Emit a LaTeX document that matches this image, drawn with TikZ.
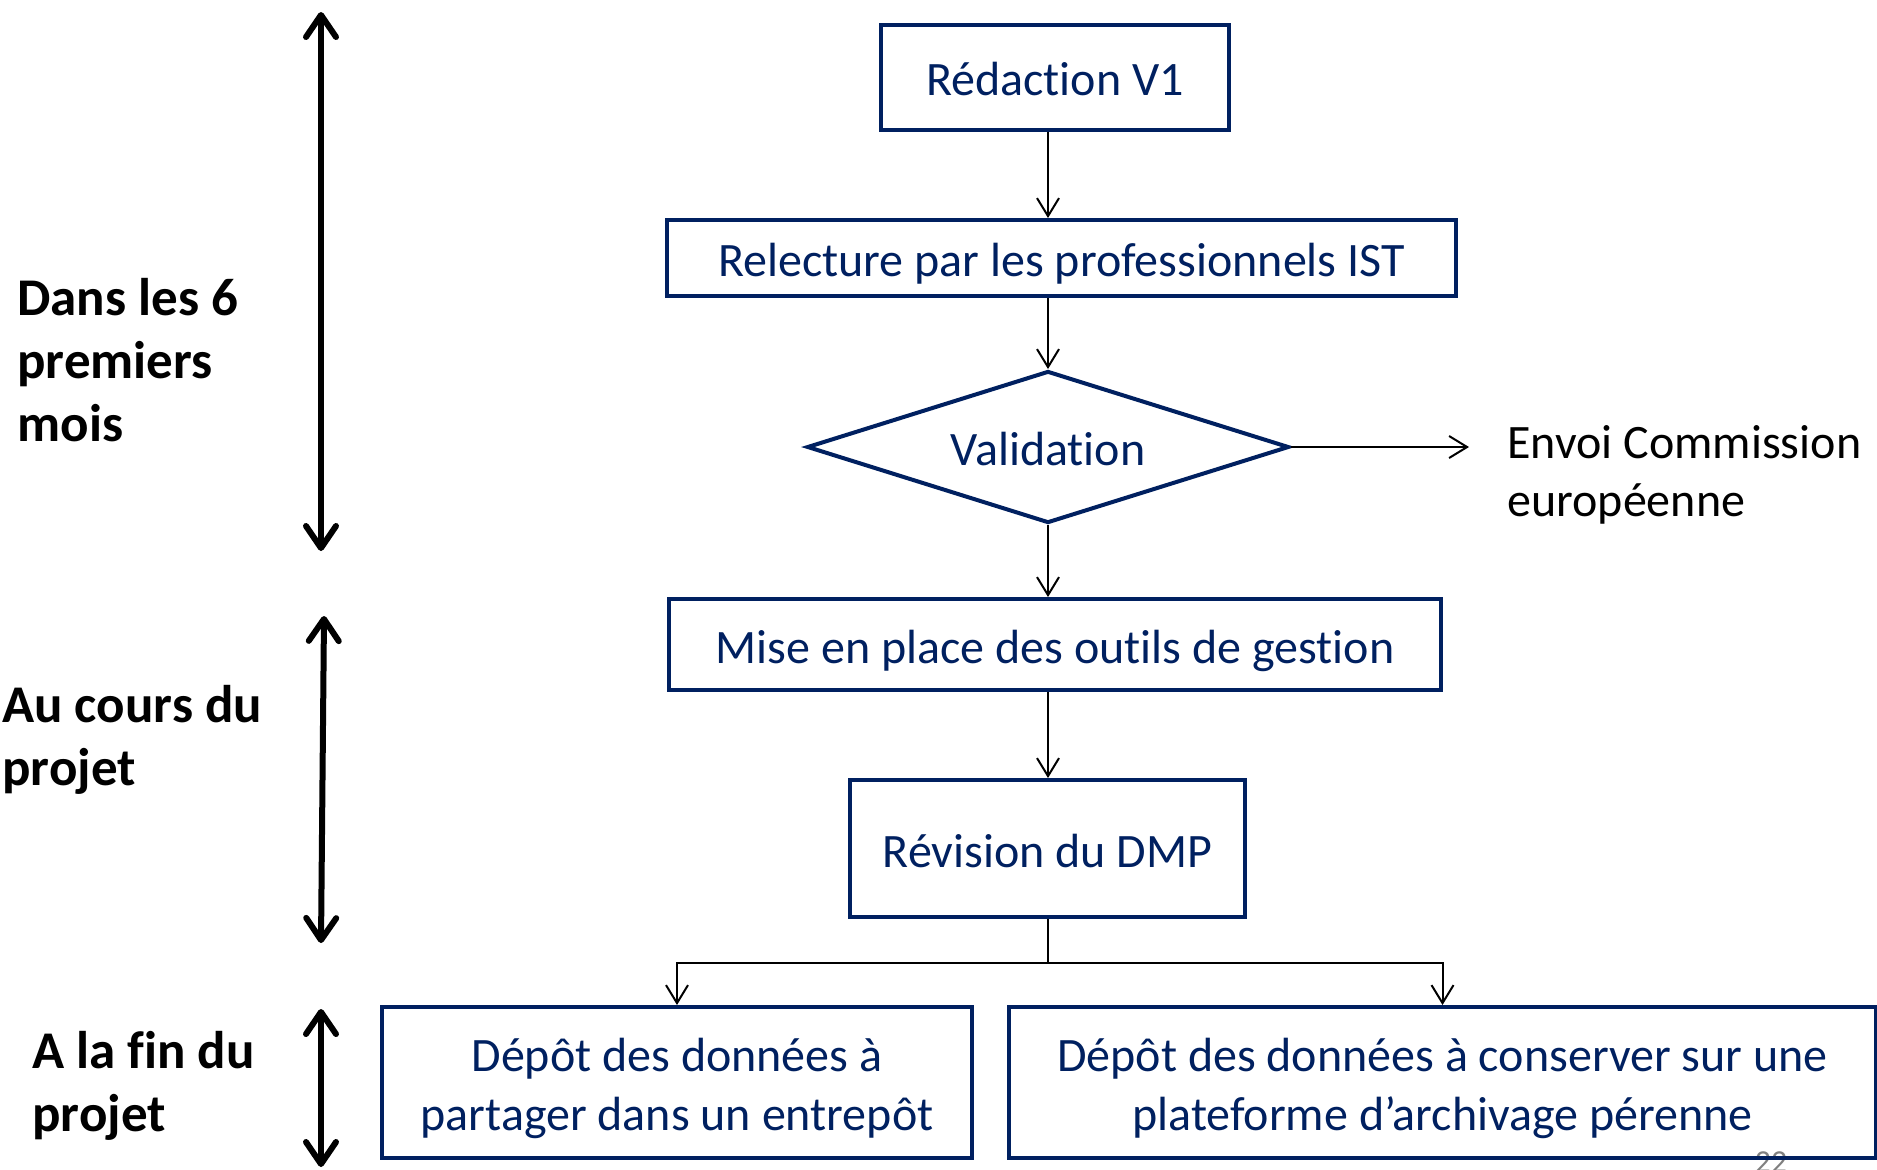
\documentclass[tikz,border=0pt]{standalone}
\usepackage{fontspec}
\setmainfont{Carlito}[Ligatures=NoCommon]
\usetikzlibrary{arrows.meta,shapes.geometric}
\definecolor{bleudmp}{RGB}{0,32,96}
\newcommand{\lignedmp}{\rule[-0.22em]{0pt}{1.22em}}

\begin{document}
\begin{tikzpicture}[x=0.5pt, y=-0.5pt]
  \tikzstyle{etape}=[rectangle, draw=bleudmp, line width=2pt, text=bleudmp, font=\fontsize{24}{29.3}\selectfont, align=center, inner sep=0pt]
  \tikzstyle{periode}=[anchor=west, inner sep=0pt, align=left, font=\bfseries\fontsize{26.5}{31.7}\selectfont]
  \tikzstyle{fleche}=[-{Straight Barb[length=9pt, width=11pt]}, line width=1pt]
  \tikzstyle{duree}=[{Straight Barb[length=11pt, width=15pt, round]}-{Straight Barb[length=11pt, width=15pt, round]}, line width=3pt]
  \useasboundingbox (0,0) rectangle (1877,1169);
  \node[text=gray, font=\fontsize{16}{19}\selectfont, anchor=north, inner sep=0pt] (numero) at (1771,1151) {22};
  \node[etape, minimum width=174pt, minimum height=52.5pt] (redac) at (1055,77) {\lignedmp Rédaction V1};
  \node[etape, minimum width=394.5pt, minimum height=38pt] (relec) at (1061.5,258) {\lignedmp Relecture par les professionnels IST};
  \node[etape, shape=diamond, aspect=3.17, minimum width=241pt, minimum height=76pt] (valid) at (1048,447) {\lignedmp Validation};
  \node[etape, minimum width=386pt, minimum height=45.5pt] (outils) at (1055,644.5) {\lignedmp Mise en place des outils de gestion};
  \node[etape, minimum width=197.5pt, minimum height=68.5pt] (revis) at (1047.5,848.5) {\lignedmp Révision du DMP};
  \node[etape, minimum width=295pt, minimum height=75.5pt] (partage) at (677,1082.5) {\lignedmp Dépôt des données à\\\lignedmp partager dans un entrepôt};
  \node[etape, minimum width=433.5pt, minimum height=75.5pt] (archive) at (1442.5,1082.5) {\lignedmp Dépôt des données à conserver sur une\\\lignedmp plateforme d’archivage pérenne};
  \node[anchor=west, inner sep=0pt, align=left, font=\fontsize{24}{29.3}\selectfont] (envoi) at (1507,475) {Envoi Commission\\européenne};
  \coordinate (envoi-fin) at (1469,447);
  \draw[fleche] (redac.south -| valid.north) -- (relec.north -| valid.north);
  \draw[fleche] (relec.south -| valid.north) -- (valid.north);
  \draw[fleche] (valid.south) -- (outils.north -| valid.south);
  \draw[fleche] (outils.south -| valid.south) -- (revis.north -| valid.south);
  \draw[fleche] (valid.east) -- (envoi-fin);
  \draw[fleche] (revis.south) -- ++(0,44) -| (partage.north);
  \draw[fleche] (revis.south) -- ++(0,44) -| (archive.north);
  \node[periode] (debut) at (17,360) {Dans les 6\\premiers\\mois};
  \node[periode] (cours) at (2,740) {Au cours du\\projet};
  \node[periode] (fin) at (32,1086) {A la fin du\\projet};
  \coordinate (debut-haut) at (321,12);
  \coordinate (debut-bas) at (321,551);
  \coordinate (cours-haut) at (324,616);
  \coordinate (cours-bas) at (321,943);
  \coordinate (fin-haut) at (321,1009);
  \coordinate (fin-bas) at (321,1167);
  \draw[duree] (debut-haut) -- (debut-bas);
  \draw[duree] (cours-haut) -- (cours-bas);
  \draw[duree] (fin-haut) -- (fin-bas);
\end{tikzpicture}
\end{document}
